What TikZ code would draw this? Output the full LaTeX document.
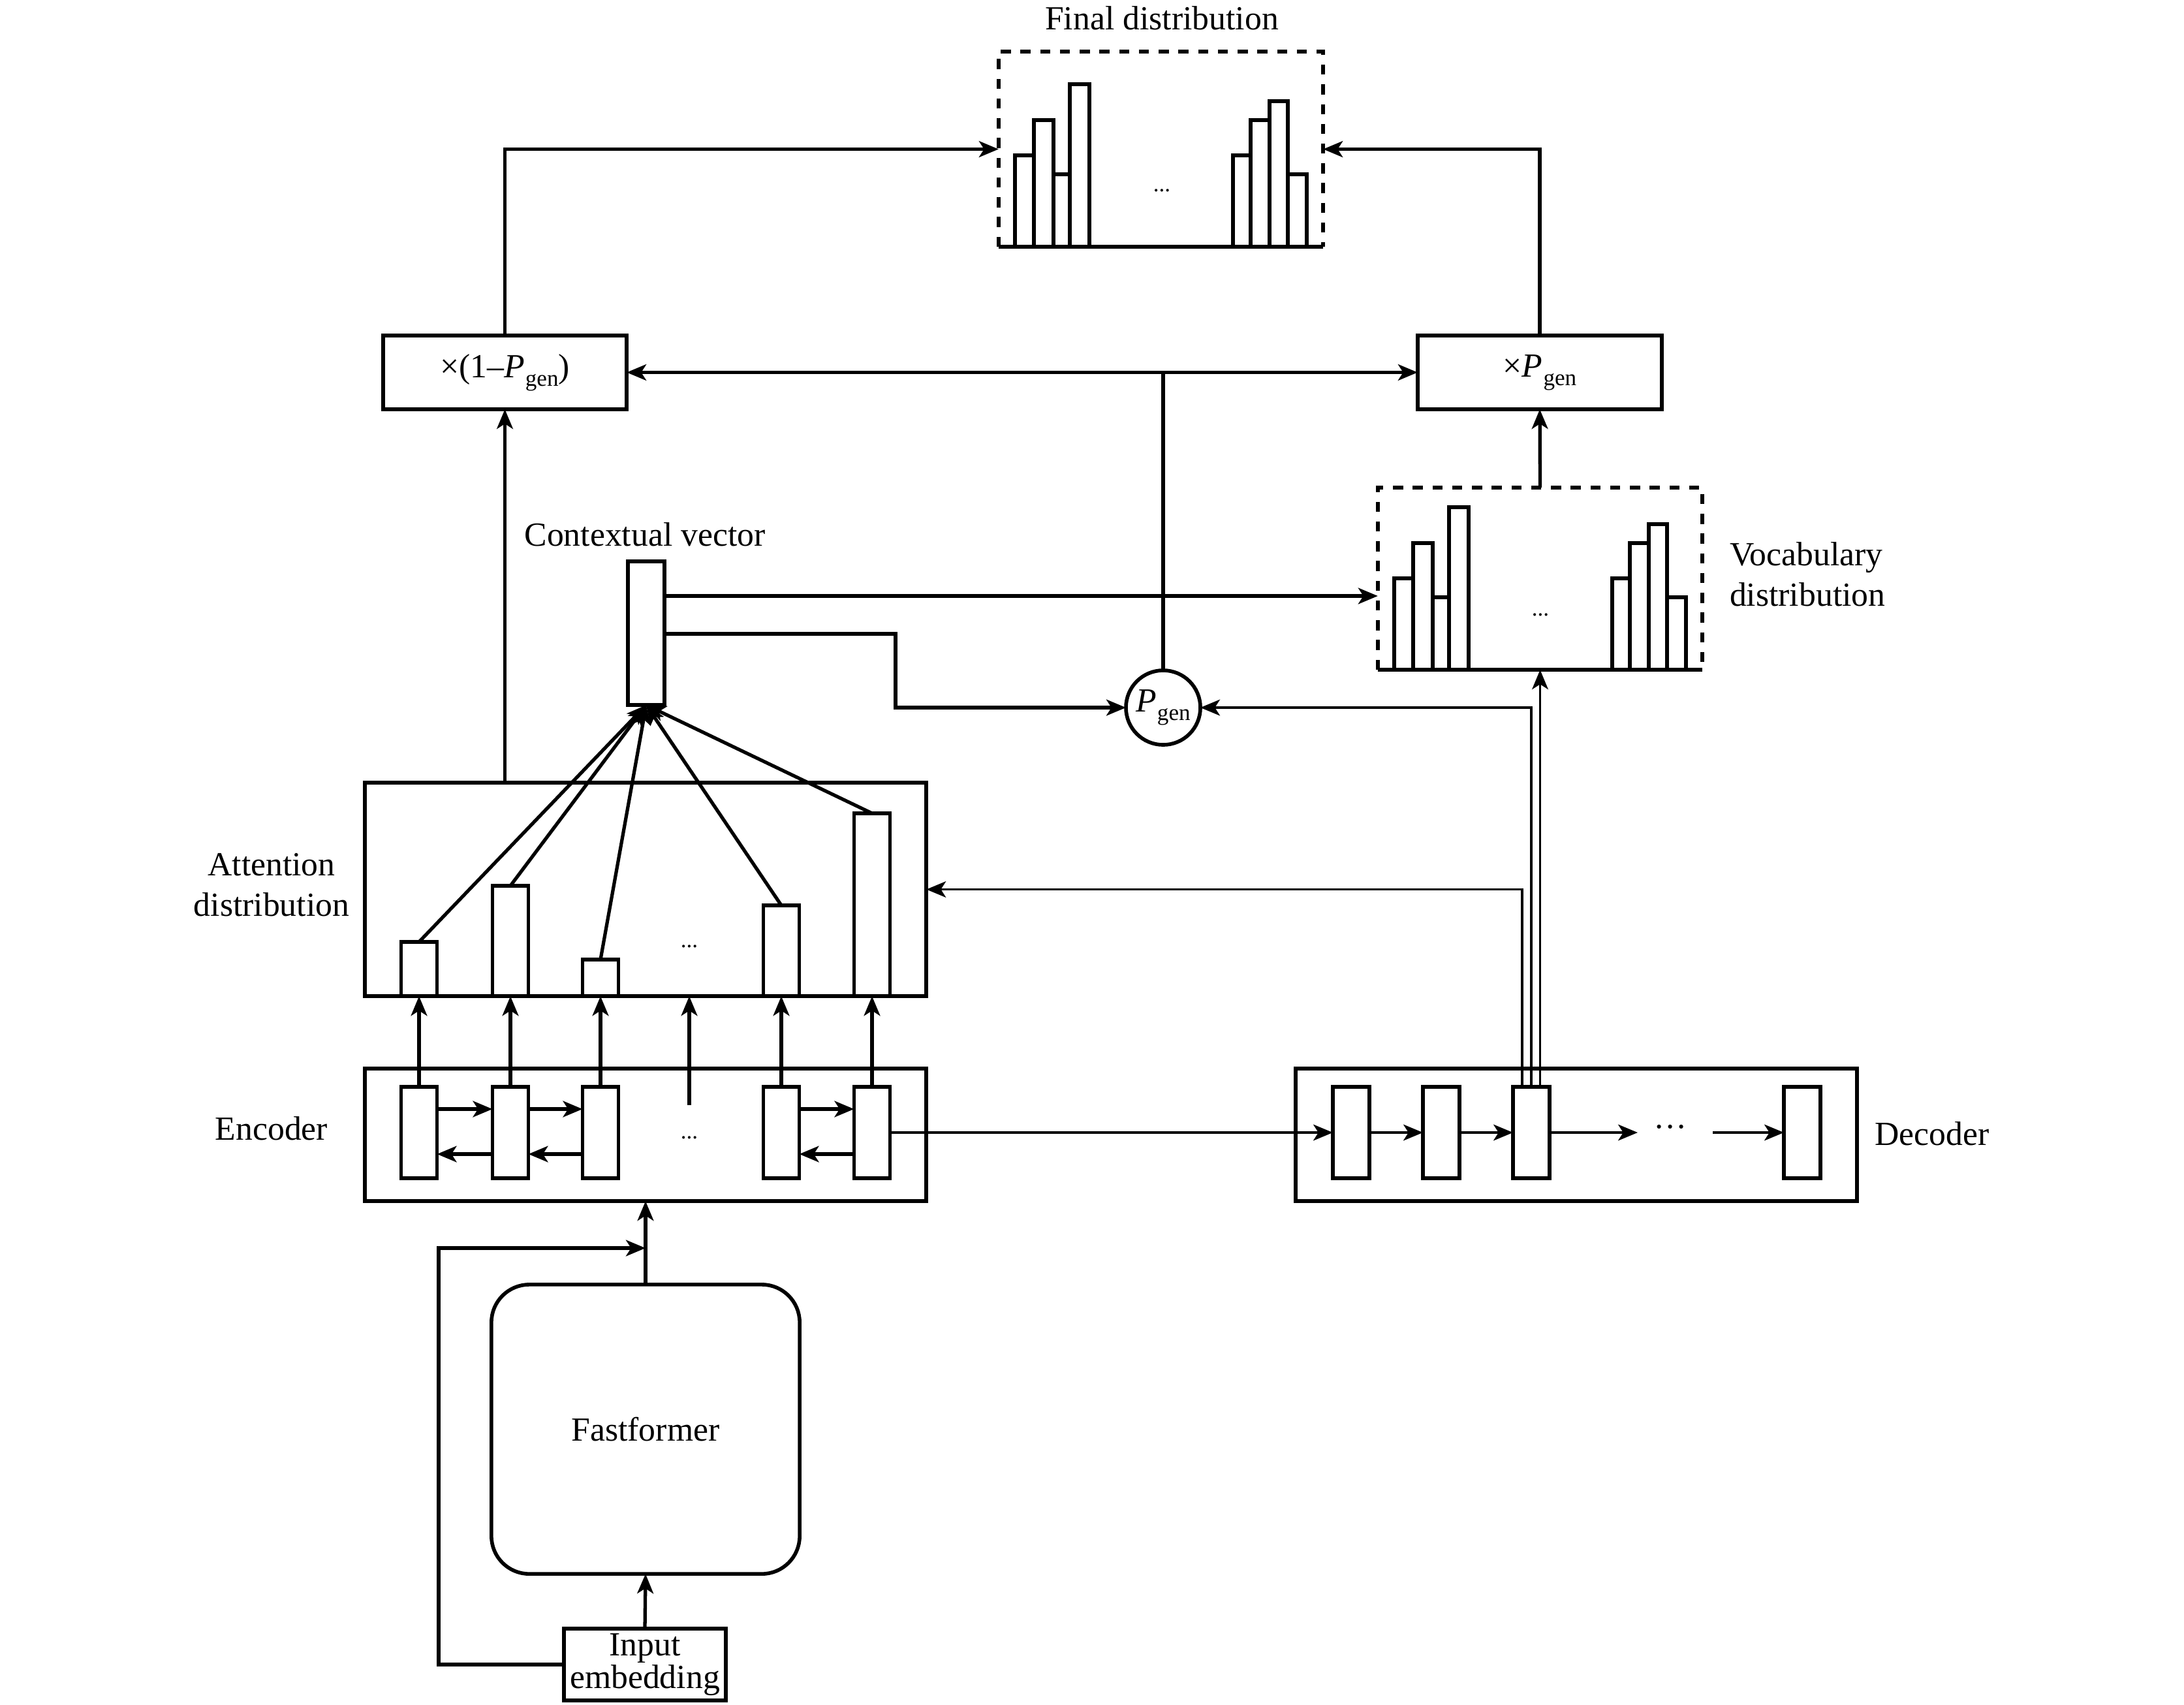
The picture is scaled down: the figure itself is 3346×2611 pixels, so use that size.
\documentclass[tikz,border=0pt]{standalone}
\usepackage{fontspec}
\setmainfont{Liberation Serif}
\usetikzlibrary{arrows.meta,calc}
\newcommand{\pgen}{\textit{P}\kern0.3pt\raisebox{-0.55ex}{\fontsize{10}{10}\selectfont gen}}
\begin{document}
\begin{tikzpicture}[x=0.01cm,y=-0.01cm,
  every node/.style={font=\fontsize{14.7}{17.6}\selectfont, inner sep=0pt, outer sep=0pt},
  box/.style={draw, line width=1.6pt},
  arr/.style={-{Stealth[length=8.5pt,width=7pt,inset=2.2pt]}, line width=1.5pt},
  tarr/.style={-{Stealth[length=8.5pt,width=7pt,inset=2.2pt]}, line width=1.1pt},
  ln/.style={line width=1.5pt},
  dsh/.style={line width=1.7pt, dash pattern=on 4.4pt off 4.2pt},
  dots/.style={font=\fontsize{10}{10}\selectfont},
  hist/.pic={
    \draw[box] (25,0) rectangle (54,-140);
    \draw[box] (54,0) rectangle (84,-194);
    \draw[box] (84,0) rectangle (109,-111);
    \draw[box] (109,0) rectangle (139,-249);
    \draw[box] (359,0) rectangle (386,-140);
    \draw[box] (386,0) rectangle (415,-194);
    \draw[box] (415,0) rectangle (443,-223);
    \draw[box] (443,0) rectangle (472,-111);
  }]
\useasboundingbox (0,0) rectangle (3346,2611);

% ---------- distributions ----------
\node[minimum width=4.97cm, minimum height=2.99cm] (fd) at (1778.5,228.5) {};
\node (fdt) at (1780,28) {Final distribution};
\pic at (fd.south west) {hist};
\draw[dsh] (fd.south west) -- (fd.north west) -- (fd.north east) -- (fd.south east);
\draw[box] (fd.south west) -- (fd.south east);
\node[dots] (fdd) at (1780,292) {...};

\node[minimum width=4.97cm, minimum height=2.79cm] (vd) at (2359.5,886.5) {};
\pic at (vd.south west) {hist};
\draw[dsh] (vd.south west) -- (vd.north west) -- (vd.north east) -- (vd.south east);
\draw[box] (vd.south west) -- (vd.south east);
\node[dots] (vdd) at (2360,942) {...};
\node[anchor=west, align=left] (vdt) at (2650,880) {Vocabulary\\distribution};

% ---------- multiplier boxes ----------
\node[box, minimum width=3.73cm, minimum height=1.13cm] (m1) at (773.5,570.5) {×(1–\pgen)};
\node[box, minimum width=3.74cm, minimum height=1.13cm] (m2) at (2359,570.5) {×\pgen};

% ---------- contextual vector and P_gen ----------
\node[box, minimum width=0.56cm, minimum height=2.2cm] (cv) at (990,970) {};
\node (cvt) at (988,819) {Contextual vector};
\node[box, circle, minimum size=1.14cm] (pg) at (1782,1084) {\pgen};

% ---------- attention ----------
\node[box, minimum width=8.6cm, minimum height=3.27cm] (att) at (989,1362.5) {};
\node[align=center] (attt) at (416,1356) {Attention\\distribution};
\node[box, minimum width=0.55cm, minimum height=0.83cm] (a1) at (642,1484.5) {};
\node[box, minimum width=0.55cm, minimum height=1.69cm] (a2) at (782,1441.5) {};
\node[box, minimum width=0.55cm, minimum height=0.56cm] (a3) at (920,1498) {};
\node[box, minimum width=0.55cm, minimum height=1.39cm] (a4) at (1197,1456.5) {};
\node[box, minimum width=0.55cm, minimum height=2.8cm] (a5) at (1336,1386) {};
\node[dots] (atd) at (1056,1450) {...};

% ---------- encoder ----------
\node[box, minimum width=8.6cm, minimum height=2.03cm] (enc) at (989,1738.5) {};
\node (enct) at (416,1729) {Encoder};
\foreach \n/\x in {1/642,2/782,3/920,4/1197,5/1336}
  \node[box, minimum width=0.55cm, minimum height=1.4cm] (e\n) at (\x,1735) {};
\node[dots] (end) at (1056,1743) {...};
\coordinate (em) at (1056,1693);
\coordinate (yf) at (0,1699);
\coordinate (yb) at (0,1768);

% ---------- decoder ----------
\node[box, minimum width=8.6cm, minimum height=2.03cm] (dec) at (2415,1738.5) {};
\node (dect) at (2960,1737) {Decoder};
\foreach \n/\x in {1/2070,2/2208,3/2346,4/2761}
  \node[box, minimum width=0.56cm, minimum height=1.4cm] (d\n) at (\x,1735) {};
\node (ddots) at (2559,1733) {···};
\coordinate (dq1) at (2509,1735);
\coordinate (dq2) at (2624,1735);

% ---------- fastformer ----------
\node[box, rounded corners=0.58cm, minimum width=4.72cm, minimum height=4.43cm] (ff) at (989,2189.5) {Fastformer};
\node[box, minimum width=2.48cm, minimum height=1.1cm, align=center, font=\fontsize{14.7}{14}\selectfont] (ie) at (988,2550) {Input\\embedding};
\coordinate (fb) at (672,1912);

% ---------- connectors ----------
\draw[arr] (m1.north) |- (fd.west);
\draw[arr] (m2.north) |- (fd.east);
\coordinate (jn) at (pg.north |- m1.east);
\draw[ln] (pg.north) -- (jn);
\draw[arr] (jn) -- (m1.east);
\draw[arr] (jn) -- (m2.west);
\draw[arr] (vd.north) -- (m2.south);
\draw[arr] (m1.south |- att.north) -- (m1.south);

\coordinate (c1) at (0,913);
\coordinate (c2) at (0,971);
\coordinate (c3) at (1372,0);
\draw[arr] (cv.east |- c1) -- (vd.west |- c1);
\draw[arr] (cv.east |- c2) -- (c3 |- c2) |- (pg.west);

\foreach \n in {1,...,5} \draw[arr] (a\n.north) -- (cv.south);

\foreach \n in {1,2,3,4,5} \draw[arr] (e\n.north) -- (e\n.north |- att.south);
\draw[arr] (em) -- (em |- att.south);
\draw[arr] (e1.east |- yf) -- (e2.west |- yf);
\draw[arr] (e2.east |- yf) -- (e3.west |- yf);
\draw[arr] (e4.east |- yf) -- (e5.west |- yf);
\draw[arr] (e2.west |- yb) -- (e1.east |- yb);
\draw[arr] (e3.west |- yb) -- (e2.east |- yb);
\draw[arr] (e5.west |- yb) -- (e4.east |- yb);
\draw[tarr] (e5.east) -- (d1.west);

\draw[tarr] (d1.east) -- (d2.west);
\draw[tarr] (d2.east) -- (d3.west);
\draw[tarr] (d3.east) -- (dq1);
\draw[tarr] (dq2) -- (d4.west);

\draw[tarr] ([xshift=-0.14cm]d3.north) |- (att.east);
\draw[tarr] (d3.north) |- (pg.east);
\draw[tarr] (d3.north -| vd.south) -- (vd.south);

\draw[arr] (ff.north) -- (ff.north |- enc.south);
\draw[arr] (ie.north) -- (ff.south);
\draw[arr] (ie.west) -| (fb) -- (fb -| ff.north);
\end{tikzpicture}
\end{document}
